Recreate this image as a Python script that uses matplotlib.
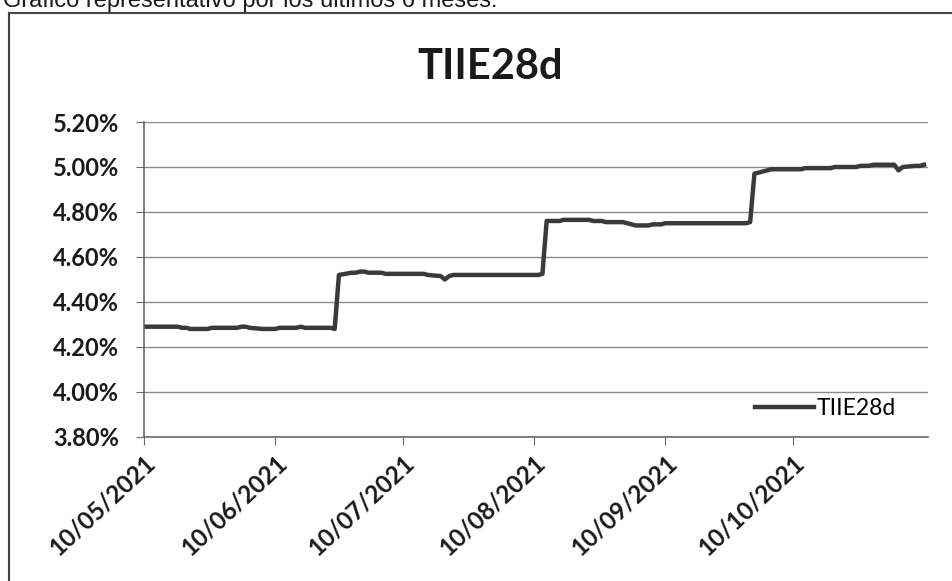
import numpy as np
import pandas as pd
import matplotlib
matplotlib.use("Agg")
import matplotlib.pyplot as plt
import matplotlib.dates as mdates
from matplotlib.ticker import FuncFormatter

# TIIE 28 days, business days from 10/05/2021 (percent)
tiie_may_jun = [4.29, 4.29, 4.29, 4.29, 4.29, 4.29, 4.29, 4.285, 4.285, 4.28,
                4.28, 4.28, 4.285, 4.285, 4.285, 4.285, 4.285, 4.29, 4.29, 4.285,
                4.28, 4.28, 4.28, 4.28, 4.285, 4.285, 4.285, 4.29, 4.285, 4.285,
                4.285, 4.285, 4.285, 4.28]
tiie_jun_aug = [4.52, 4.53, 4.53, 4.535, 4.535, 4.53, 4.53, 4.525, 4.525, 4.525,
                4.525, 4.525, 4.525, 4.525, 4.525, 4.52, 4.515, 4.5, 4.515, 4.52,
                4.52, 4.52, 4.52, 4.52, 4.52, 4.52, 4.52, 4.52, 4.52, 4.52,
                4.52, 4.52, 4.52, 4.52, 4.525]
tiie_aug_sep = [4.76, 4.76, 4.765, 4.765, 4.765, 4.765, 4.765, 4.76, 4.76, 4.76,
                4.755, 4.755, 4.755, 4.75, 4.745, 4.74, 4.74, 4.745, 4.745, 4.745,
                4.75, 4.75, 4.75, 4.75, 4.75, 4.75, 4.75, 4.75, 4.75, 4.75,
                4.75, 4.75, 4.75, 4.75, 4.755]
tiie_oct_nov = [4.97, 4.985, 4.99, 4.99, 4.99, 4.99, 4.99, 4.99, 4.995, 4.995,
                4.995, 4.995, 4.995, 5.0, 5.0, 5.0, 5.0, 5.005, 5.005, 5.005,
                5.01, 5.01, 5.01, 5.01, 4.985, 5.0, 5.005, 5.005, 5.01]
tiie = tiie_may_jun + tiie_jun_aug + tiie_aug_sep + tiie_oct_nov
dates = pd.bdate_range(start="2021-05-10", periods=len(tiie))

tick_dates = pd.to_datetime(["2021-05-10", "2021-06-10", "2021-07-10",
                             "2021-08-10", "2021-09-10", "2021-10-10"])
y_ticks = [3.8, 4.0, 4.2, 4.4, 4.6, 4.8, 5.0, 5.2]

fig = plt.figure(figsize=(9.53, 5.81), dpi=100)
ax = fig.add_axes([0.151, 0.248, 0.823, 0.542])

ax.plot(dates, tiie, color="#3a3a3a", lw=3.2, label="TIIE28d")

ax.set_ylim(3.8, 5.2)
ax.set_yticks(y_ticks)
ax.yaxis.set_major_formatter(FuncFormatter(lambda v, p: f"{v:.2f}%"))
ax.set_xlim(pd.Timestamp("2021-05-10"), pd.Timestamp("2021-11-11"))
ax.set_xticks(tick_dates)
ax.xaxis.set_major_formatter(mdates.DateFormatter("%d/%m/%Y"))

ax.grid(axis="y", color="#8a8a8a", lw=1.0)
ax.set_axisbelow(True)
for s in ["top", "right"]:
    ax.spines[s].set_visible(False)
for s in ["left", "bottom"]:
    ax.spines[s].set_color("#6a6a6a")
    ax.spines[s].set_linewidth(1.2)

ax.tick_params(axis="y", length=6, color="#6a6a6a", labelsize=17, pad=12)
ax.tick_params(axis="x", length=6, color="#6a6a6a", labelsize=17.5, pad=4)
for lab in ax.get_yticklabels() + ax.get_xticklabels():
    lab.set_fontweight("bold")
    lab.set_fontfamily("Lato")
    lab.set_color("#1a1a1a")
for lab in ax.get_xticklabels():
    lab.set_rotation(43)
    lab.set_ha("right")
    lab.set_rotation_mode("anchor")

leg = ax.legend(loc="lower right", bbox_to_anchor=(0.985, -0.01), frameon=False,
                handlelength=2.6, handletextpad=0.1,
                prop={"family": "Lato", "size": 16.5})

fig.text(0.514, 0.885, "TIIE28d", ha="center", va="center", fontsize=30,
         fontweight="bold", family="Lato", color="#1a1a1a")

# chart border and the clipped caption above it
fig.add_artist(plt.Line2D([0.009, 0.009], [0.0, 0.978], color="#444444", lw=1.5))
fig.add_artist(plt.Line2D([0.009, 1.0], [0.978, 0.978], color="#444444", lw=1.5))
fig.text(0.003, 0.988, "Gráfico representativo por los últimos 6 meses:", ha="left",
         va="baseline", fontsize=17, family="Liberation Sans", color="#1a1a1a")

fig.savefig("out.png", dpi=100)
